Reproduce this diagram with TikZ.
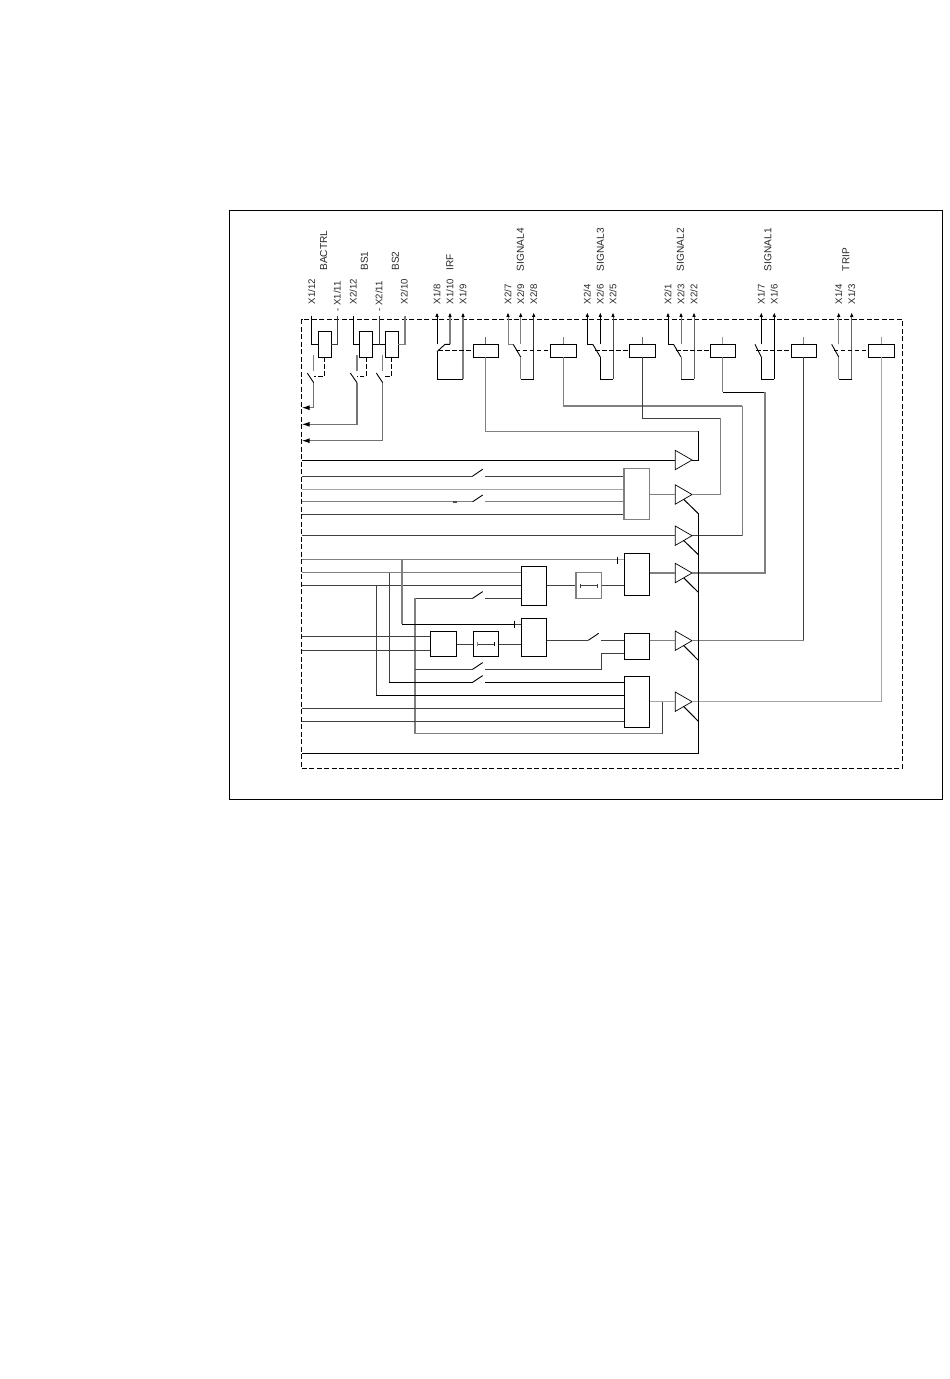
\documentclass[tikz,border=0pt]{standalone}
\usepackage{fontspec}
\setmainfont{Liberation Sans}
\usetikzlibrary{shapes.geometric,arrows.meta,calc}
\tikzset{
  wk/.style={draw=black,line width=0.9pt},
  wd/.style={draw=black!75,line width=0.9pt},
  wg/.style={draw=black!50,line width=1.2pt},
  wl/.style={draw=black!35,line width=1pt},
  boxk/.style={wk,rectangle,inner sep=0,outer sep=0,fill=white},
  boxg/.style={wg,rectangle,inner sep=0,outer sep=0,fill=white},
  amp/.style={regular polygon,regular polygon sides=3,shape border rotate=-90,draw=black,line width=0.7pt,minimum size=22.3pt,inner sep=0,outer sep=0},
  lab/.style={rotate=90,anchor=west,inner sep=0,outer sep=0,font=\fontsize{9.6pt}{10pt}\selectfont,text=black!85},
  sig/.style={lab,font=\fontsize{10.1pt}{11pt}\selectfont},
  up/.style={-{Latex[length=4.6pt,width=3.6pt,color=black]}},
  inw/.style={-{Latex[length=8pt,width=5pt,color=black]},draw=black!55,line width=1.1pt},
  dsh/.style={draw=black,line width=0.9pt,dash pattern=on 4.5pt off 2.5pt},
  frameo/.style={draw=black,line width=0.9pt,rectangle,inner sep=0,outer sep=0},
  framed/.style={draw=black,line width=0.9pt,rectangle,inner sep=0,outer sep=0,dash pattern=on 5pt off 2.5pt},
}
\newcommand{\hsw}[2]{\coordinate (#1a) at (472.7,#2);\coordinate (#1b) at (482.7,#2-6.7);\coordinate (#1c) at (485,#2);}
\newcommand{\rowat}[2]{\coordinate (#1) at (301.7,#2);}
\begin{document}
\begin{tikzpicture}[x=1pt,y=-1pt]
\useasboundingbox (0,0) rectangle (950,1379);
\node[frameo,minimum width=713pt,minimum height=589pt] (outer) at (586,504.5) {};
\node[framed,minimum width=600.6pt,minimum height=449pt] (frame) at (602,543.8) {};

% ---------- labels
\node[lab] (l1) at (311.7,304) {X1/12};
\node[lab] (l2) at (337.3,311.5) {- X1/11};
\node[lab] (l3) at (353.3,304) {X2/12};
\node[lab] (l4) at (379.0,311.5) {- X2/11};
\node[lab] (l5) at (404.3,304) {X2/10};
\node[sig] (n1) at (323.7,270.5) {BACTRL};
\node[sig] (n2) at (364.3,270.5) {BS1};
\node[sig] (n3) at (395.3,270.5) {BS2};
\node[lab] (l6) at (437,304) {X1/8};
\node[lab] (l7) at (450,304) {X1/10};
\node[lab] (l8) at (463,304) {X1/9};
\node[sig] (n4) at (450,270.5) {IRF};
\node[lab] (l9) at (508,304) {X2/7};
\node[lab] (l10) at (520.7,304) {X2/9};
\node[lab] (l11) at (533.7,304) {X2/8};
\node[sig] (n5) at (520.5,271) {SIGNAL4};
\node[lab] (l12) at (587.3,304) {X2/4};
\node[lab] (l13) at (600.3,304) {X2/6};
\node[lab] (l14) at (613,304) {X2/5};
\node[sig] (n6) at (600.5,271) {SIGNAL3};
\node[lab] (l15) at (668,304) {X2/1};
\node[lab] (l16) at (681,304) {X2/3};
\node[lab] (l17) at (694,304) {X2/2};
\node[sig] (n7) at (680.5,271) {SIGNAL2};
\node[lab] (l18) at (761.3,304) {X1/7};
\node[lab] (l19) at (774.3,304) {X1/6};
\node[sig] (n8) at (768,271) {SIGNAL1};
\node[lab] (l20) at (838.7,304) {X1/4};
\node[lab] (l21) at (851.7,304) {X1/3};
\node[sig] (n9) at (846,271) {TRIP};

% ---------- relay boxes
\node[boxk,minimum width=12.6pt,minimum height=25.6pt] (bactrl) at (325,344.5) {};
\node[boxk,minimum width=12.6pt,minimum height=25.6pt] (bsone) at (366,344.5) {};
\node[boxk,minimum width=12.6pt,minimum height=25.6pt] (bstwo) at (392,344.5) {};
\node[boxk,minimum width=25pt,minimum height=13pt] (rirf) at (485.8,350.8) {};
\node[boxk,minimum width=26pt,minimum height=13pt] (rsigd) at (563.3,350.8) {};
\node[boxk,minimum width=26pt,minimum height=13pt] (rsigc) at (642.3,350.8) {};
\node[boxk,minimum width=25pt,minimum height=13pt] (rsigb) at (722.8,350.8) {};
\node[boxk,minimum width=25pt,minimum height=13pt] (rsiga) at (803.8,350.8) {};
\node[boxk,minimum width=26pt,minimum height=13pt] (rtrip) at (881.3,350.8) {};

% ---------- logic boxes
\node[boxg,minimum width=25.7pt,minimum height=50.6pt] (ga) at (636.85,494) {};
\node[boxk,minimum width=25.4pt,minimum height=42pt] (gb) at (637,574.3) {};
\node[boxk,minimum width=25.4pt,minimum height=39pt] (gc) at (534,585.8) {};
\node[boxg,minimum width=25.7pt,minimum height=26pt] (tma) at (588.85,585.7) {};
\node[boxk,minimum width=25.4pt,minimum height=38pt] (gd) at (534,637.3) {};
\node[boxk,minimum width=25.4pt,minimum height=26pt] (ge) at (637,646.3) {};
\node[boxk,minimum width=25.4pt,minimum height=51pt] (gf) at (637,701.8) {};
\node[boxk,minimum width=26.4pt,minimum height=25.4pt] (gg) at (443.5,644) {};
\node[boxk,minimum width=25.4pt,minimum height=25.4pt] (tmb) at (486,644) {};

% ---------- amplifiers
\node[amp] (tra) at (680.9,460) {};
\node[amp] (trb) at (680.9,494.5) {};
\node[amp] (trc) at (680.9,535.7) {};
\node[amp] (trd) at (680.9,573) {};
\node[amp] (tre) at (680.9,640.7) {};
\node[amp] (trf) at (680.9,701.7) {};

% ---------- terminals
\foreach \n/\x in {ta/311.3,tb/337.3,tc/353.3,td/379.3,te/405}{\coordinate (\n) at (\x,316);}
\foreach \n/\x in {ia/437,ib/450,ic/463,sa/508,sb/520.7,sc/533.7,ua/587.3,ub/600.3,uc/613,va/668,vb/681,vc/694,wa/761.3,wb/774.3,xa/838.7,xb/851.7}{\coordinate (\n) at (\x,312.3);}

% ---------- coil connections
\draw[wk] (ta) |- (bactrl.west);
\draw[wd] (tb) |- (bactrl.east);
\draw[wk] (tc) |- (bsone.west);
\draw[wk] (bsone.east) -- (bstwo.west);
\coordinate (jm) at (379.3,344.5);
\draw[wd] (td) -- (jm);
\draw[wg] (te) |- (bstwo.east);

% ---------- binary input contacts
\foreach \n/\xa/\xb/\xd/\yy in {p/307.3/313.7/324.7/407.7,q/350.3/357/366.3/424.3,r/376.3/382.7/391.7/440.7}{
  \coordinate (\n a) at (\xa,373);
  \coordinate (\n b) at (\xb,382.7);
  \coordinate (\n d) at (\xd,376.3);
  \coordinate (\n e) at (\xb,376.3);
  \coordinate (\n s) at (\xb,355);
  \coordinate (\n t) at (\xb,371);
  \coordinate (\n y) at (\xb,\yy);
  \coordinate (\n w) at (301.7,\yy);
  \draw[wk] (\n a) -- (\n b);
  \draw[wg] (\n s) -- (\n t);
  \draw[inw] (\n b) -- (\n y) -- (\n w);
}
\draw[dsh] (bactrl.south -| pd) -- (pd) -- (pe);
\draw[dsh] (bsone.south -| qd) -- (qd) -- (qe);
\draw[dsh] (bstwo.south -| rd) -- (rd) -- (re);

% ---------- IRF contact
\coordinate (ih) at (437,344.3);
\coordinate (ij) at (450,344.3);
\coordinate (ik) at (445,344.3);
\coordinate (il) at (437,351.7);
\coordinate (im) at (437,379);
\coordinate (in) at (463,379);
\draw[wk,up] (ih) -- (ia);
\draw[wg,up] (ij) -- (ib);
\draw[wk] (ij) -- (ik) -- (il);
\draw[wk] (il) -- (im) -- (in);
\draw[wg,up] (in) -- (ic);
\draw[dsh] (438,350.8) -- (rirf.west);

% ---------- change-over contacts
\foreach \a/\b/\c/\rr/\ca/\cb/\cc in {sa/sb/sc/rsigd/black!50/black!50/black!80,ua/ub/uc/rsigc/black/black/black!70,va/vb/vc/rsigb/black/black!55/black!60}{
  \coordinate (\a h) at (\a |- ih);
  \coordinate (\b h) at (\b |- ih);
  \coordinate (\b f) at ($(\b h)+(-7.5,0)$);
  \coordinate (\b g) at ($(\b h)+(0,12.7)$);
  \coordinate (\b m) at ($(\b h)+(0,34.7)$);
  \coordinate (\c m) at (\c |- \b m);
  \draw[line width=1pt,draw=\ca,up] (\a h) -- (\a);
  \draw[line width=1pt,draw=\cb,up] (\b h) -- (\b);
  \draw[line width=1pt,draw=\ca] (\a h) -- (\b f);
  \draw[wk] (\b f) -- (\b g);
  \draw[line width=1pt,draw=\cb] (\b g) -- (\b m);
  \draw[wk] (\b m) -- (\c m);
  \draw[line width=1pt,draw=\cc,up] (\c m) -- (\c);
  \draw[dsh] ($(\b h)+(-5,6.5)$) -- (\rr.west);
}

% ---------- make contacts
\foreach \a/\b/\sx/\rr/\ca/\cb in {wa/wb/755/rsiga/black/black,xa/xb/831.7/rtrip/black!50/black!60}{
  \coordinate (\a h) at (\a |- ih);
  \coordinate (\a g) at ($(\a h)+(0,12.7)$);
  \coordinate (\a f) at (\sx,344.3);
  \coordinate (\a m) at ($(\a h)+(0,34.7)$);
  \coordinate (\b m) at (\b |- \a m);
  \draw[line width=1pt,draw=\ca,up] (\a h) -- (\a);
  \draw[wk] (\a f) -- (\a g);
  \draw[line width=1pt,draw=\ca] (\a g) -- (\a m);
  \draw[wk] (\a m) -- (\b m);
  \draw[line width=1pt,draw=\cb,up] (\b m) -- (\b);
  \draw[dsh] ($(\a h)+(-5,6.5)$) -- (\rr.west);
}

% ---------- coil stubs and outputs
\foreach \rr/\cc in {rirf/black!60,rsigd/black!50,rsigc/black!60,rsigb/black!40,rsiga/black!50,rtrip/black!40}{
  \coordinate (\rr t) at ($(\rr.north)+(0,-7)$);
  \draw[line width=1pt,draw=\cc] (\rr.north) -- (\rr t);
}
\coordinate (oa) at (698.7,431.3);
\draw[wl,draw=black!50] (rirf.south) |- (oa);
\draw[wk] (oa) |- (tra.corner 1);
\coordinate (ob) at (742.3,406);
\draw[wg] (rsigd.south) |- (ob);
\coordinate (obb) at (742.3,535.7);
\draw[wg] (ob) -- (obb);
\draw[wd] (obb) -- (trc.corner 1);
\coordinate (oc) at (720.3,418.3);
\draw[wd] (rsigc.south) |- (oc);
\draw[wg] (oc) |- (trb.corner 1);
\coordinate (od) at (765,392.3);
\coordinate (odb) at (722.8,392.3);
\draw[wg] (rsigb.south) -- (odb);
\draw[wk] (odb) -- (od);
\draw[wg] (od) |- (trd.corner 1);
\coordinate (oe) at (803.8,640.7);
\draw[wd] (rsiga.south) -- (oe);
\draw[wg] (oe) -- (tre.corner 1);
\coordinate (of) at (881.3,701.7);
\draw[wl] (rtrip.south) -- (of) -- (trf.corner 1);

% ---------- enable bus
\coordinate (eb) at (698.7,514);
\coordinate (ec) at (698.7,555);
\coordinate (ed) at (698.7,592.7);
\coordinate (ee) at (698.7,660.7);
\coordinate (ef) at (698.7,721.7);
\coordinate (bb) at (698.7,753.3);
\rowat{rbus}{753.3}
\draw[wk,line width=1pt] (trb.side 3) -- (eb);
\draw[wk,line width=1pt] (trc.side 3) -- (ec);
\draw[wk,line width=1pt] (trd.side 3) -- (ed);
\draw[wk,line width=1pt] (tre.side 3) -- (ee);
\draw[wk,line width=1pt] (trf.side 3) -- (ef);
\draw[wk] (eb) -- (bb) -- (rbus);

% ---------- rows
\rowat{ra}{460.3}
\rowat{rb}{476}
\rowat{rc}{489}
\rowat{rd}{501.7}
\rowat{re}{514.3}
\rowat{rf}{535.7}
\rowat{rg}{559.7}
\rowat{rh}{572.7}
\rowat{ri}{585.3}
\rowat{rj}{636.7}
\rowat{rk}{650}
\rowat{rl}{708.3}
\rowat{rm}{721.3}
\hsw{sb}{476}
\hsw{sd}{501.7}
\hsw{sr}{598.3}
\hsw{ss}{669.3}
\hsw{st}{682.3}

\draw[wk] (ra) -- (ra -| tra.corner 2);
\draw[wd] (rb) -- (sba);
\draw[wk] (sba) -- (sbb);
\draw[wd] (sbc) -- (sbc -| ga.west);
\draw[wl] (rc) -- (rc -| ga.west);
\draw[wg] (rd) -- (sda);
\draw[wk] (sda) -- (sdb);
\draw[wg] (sdc) -- (sdc -| ga.west);
\draw[wd] (re) -- (re -| ga.west);
\draw[black!70,line width=1.6pt] (453,501.7) -- (457,501.7);
\draw[wg] (ga.east |- trb.corner 1) -- (trb.corner 2 |- trb.corner 1);
\draw[wd] (rf) -- (rf -| trc.corner 2);

\coordinate (tkb) at (617.3,559.7);
\draw[wg] (rg) -- (tkb);
\draw[wl] (tkb) -- (tkb -| gb.west);
\draw[wk,line width=0.8pt] (617.3,556.7) -- (617.3,563.7);
\draw[wg] (rh) -- (rh -| gc.west);
\draw[wd] (ri) -- (ri -| gc.west);
\draw[wd] (gc.east |- tma.west) -- (tma.west);
\draw[wd] (tma.east) -- (tma.east -| gb.west);
\draw[wg] (gb.east |- trd.corner 1) -- (trd.corner 2 |- trd.corner 1);
\draw[wd] ([xshift=4pt]tma.west) -- ([xshift=-4pt]tma.east);
\draw[wd,line width=.7pt] ([xshift=4pt,yshift=-2pt]tma.west) -- ([xshift=4pt,yshift=2pt]tma.west);
\draw[wd,line width=.7pt] ([xshift=-4pt,yshift=-2pt]tma.east) -- ([xshift=-4pt,yshift=2pt]tma.east);
\draw[wd] ([xshift=4pt]tmb.west) -- ([xshift=-4pt]tmb.east);
\draw[wg,line width=.8pt] ([xshift=4pt,yshift=-2pt]tmb.west) -- ([xshift=4pt,yshift=2pt]tmb.west);
\draw[wk,line width=.7pt] ([xshift=-4pt,yshift=-2pt]tmb.east) -- ([xshift=-4pt,yshift=2pt]tmb.east);

\coordinate (xq) at (415,598.3);
\coordinate (xr) at (415,733.7);
\coordinate (xs) at (662.7,733.7);
\coordinate (xt) at (662.7,701.7);
\draw[wd] (xq) -- (sra);
\draw[wk] (sra) -- (srb);
\draw[wd] (src) -- (src -| gc.west);
\draw[wg] (xq) -- (xr) -- (xs);
\draw[wd] (xs) -- (xt);
\draw[wl] (gf.east |- xt) -- (trf.corner 2 |- xt);

\coordinate (jva) at (402,559.7);
\coordinate (jvb) at (402,624.3);
\coordinate (vtk) at (514.7,624.3);
\draw[wg] (jva) -- (jvb);
\draw[wk] (jvb) -- (vtk);
\draw[wk,line width=0.8pt] (514.7,620.7) -- (514.7,628.3);
\draw[wd] (vtk) -- (vtk -| gd.west);

\coordinate (jvc) at (389.3,572.7);
\coordinate (jvd) at (389.3,682.3);
\draw[wd] (jvc) -- (jvd);
\draw[wk] (jvd) -- (sta);
\draw[wk] (sta) -- (stb);
\draw[wk] (stc) -- (stc -| gf.west);

\coordinate (jve) at (376.3,585.3);
\coordinate (jvf) at (376.3,695.3);
\draw[wd] (jve) -- (jvf);
\draw[wk] (jvf) -- (jvf -| gf.west);

\draw[wd] (rj) -- (rj -| gg.west);
\draw[wd] (rk) -- (rk -| gg.west);
\draw[wd] (gg.east) -- (tmb.west);
\draw[wd] (tmb.east) -- (tmb.east -| gd.west);

\coordinate (sxa) at (588.3,640.3);
\coordinate (sxb) at (598.7,633.3);
\coordinate (sxc) at (601.3,640.3);
\draw[wd] (gd.east |- sxa) -- (sxa);
\draw[wk] (sxa) -- (sxb);
\draw[wd] (sxc) -- (sxc -| ge.west);
\draw[wg] (ge.east |- tre.corner 1) -- (tre.corner 2 |- tre.corner 1);

\coordinate (xx) at (415,669.3);
\coordinate (xy) at (601.7,669.3);
\coordinate (xz) at (601.7,653);
\draw[wd] (xx) -- (ssa);
\draw[wk] (ssa) -- (ssb);
\draw[wd] (ssc) -- (xy);
\draw[wd] (xy) -- (xz) -- (xz -| ge.west);

\draw[wd] (rl) -- (rl -| gf.west);
\draw[wd] (rm) -- (rm -| gf.west);

% redraw boxes' outlines over wires
\foreach \b in {ga,tma}{\draw[wg] (\b.south west) rectangle (\b.north east);}
\foreach \b in {gb,gc,gd,ge,gf,gg,tmb}{\draw[wk] (\b.south west) rectangle (\b.north east);}
\end{tikzpicture}
\end{document}
